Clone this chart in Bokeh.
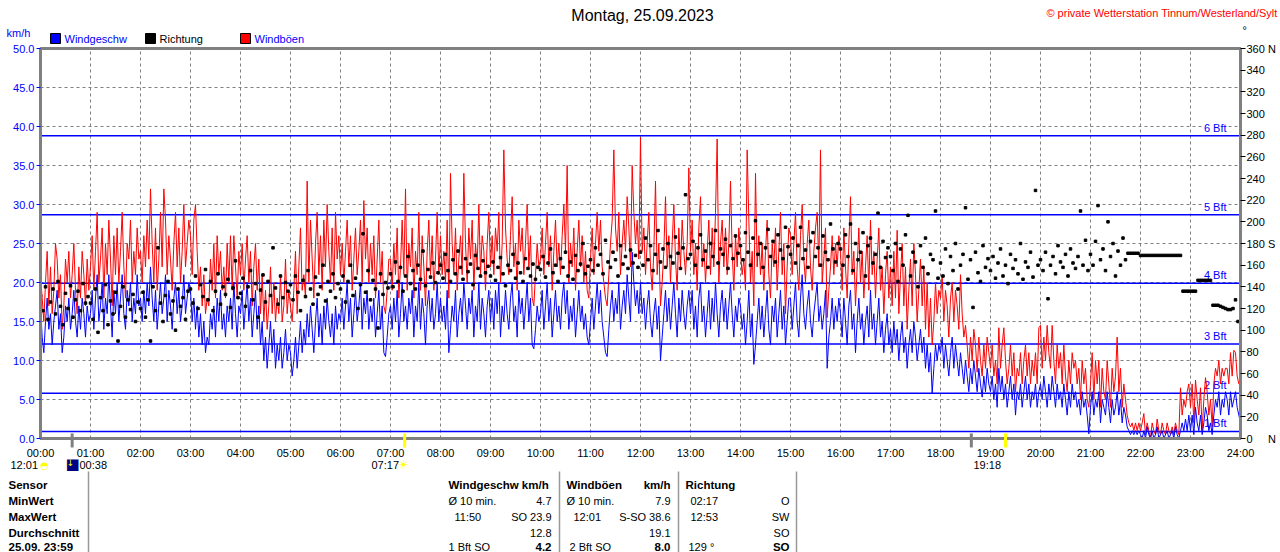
from bokeh.plotting import figure
from bokeh.models import Range1d, LinearAxis, FixedTicker, Span, Label, NumeralTickFormatter
from bokeh.core.properties import value
from bokeh.embed import file_html
from bokeh.resources import INLINE

FONT = "Liberation Sans"
SYM_FONT = "DejaVu Sans"
BLUE = "#0000FF"
RED = "#FF0000"
GRAY = "#808080"

# ---------------- data ----------------
# wind speed / gusts: 2-minute samples (30 per hour) + value at 24:00
SPEED_STEP_MIN = 2
wind_speed = [
    17, 13, 11, 15, 18, 14, 16, 12, 15, 17, 19, 14, 16, 11, 13, 17, 15, 18, 14, 16, 19, 15, 13, 17, 14, 18, 16, 13, 17, 15,  # 00
    16, 19, 14, 18, 21, 15, 17, 20, 14, 18, 16, 21, 17, 13, 19, 16, 20, 15, 18, 21, 16, 14, 19, 17, 20, 15, 18, 16, 21, 17,  # 01
    18, 15, 19, 16, 20, 17, 22, 18, 15, 19, 14, 17, 20, 16, 18, 21, 15, 19, 17, 14, 18, 20, 16, 19, 15, 17, 21, 16, 18, 20,  # 02
    19, 15, 18, 14, 17, 13, 16, 12, 15, 11, 13, 12, 16, 14, 17, 13, 18, 15, 19, 14, 16, 13, 17, 15, 18, 14, 20, 16, 13, 17,  # 03
    16, 19, 14, 17, 20, 15, 18, 13, 16, 19, 14, 17, 12, 15, 10, 13, 9, 12, 15, 11, 14, 9, 12, 10, 13, 9, 11, 14, 10, 12,      # 04
    11, 8, 10, 13, 9, 12, 15, 11, 14, 12, 16, 13, 17, 14, 11, 15, 18, 13, 16, 12, 17, 14, 18, 15, 13, 16, 12, 17, 14, 16,     # 05
    15, 18, 14, 17, 20, 15, 18, 13, 16, 19, 15, 17, 20, 14, 18, 16, 19, 14, 17, 15, 18, 13, 16, 19, 14, 17, 11, 10.5, 13, 16, # 06
    17, 14, 18, 15, 19, 13, 16, 20, 15, 17, 14, 18, 16, 19, 13, 17, 15, 20, 14, 18, 16, 12, 17, 19, 15, 18, 14, 16, 20, 15,  # 07
    18, 15, 17, 14, 19, 11, 14, 17, 15, 19, 13, 16, 18, 15, 20, 17, 14, 18, 16, 19, 13, 17, 15, 20, 14, 18, 16, 13, 17, 19,  # 08
    15, 18, 14, 19, 16, 20, 13, 17, 15, 19, 16, 14, 18, 20, 15, 17, 13, 19, 16, 18, 14, 17, 20, 15, 18, 12, 11.5, 14, 17, 15, # 09
    16, 19, 14, 17, 20, 15, 18, 13, 16, 19, 15, 17, 14, 18, 20, 16, 19, 14, 17, 15, 18, 13, 16, 19, 15, 17, 14, 16, 13, 12,  # 10
    15, 18, 14, 17, 20, 16, 19, 15, 13, 11, 10.5, 14, 17, 19, 15, 18, 16, 20, 14, 17, 19, 16, 21, 18, 15, 23.9, 20, 17, 19, 16,  # 11
    20, 16, 18, 14, 17, 19, 15, 13, 16, 18, 14, 17, 10, 13, 16, 19, 15, 18, 14, 17, 20, 16, 13, 18, 15, 19, 16, 14, 17, 19,  # 12
    16, 19, 14, 17, 13, 18, 20, 15, 17, 13, 16, 19, 14, 18, 15, 20, 16, 13, 17, 19, 15, 18, 14, 17, 20, 16, 13, 17, 15, 18,  # 13
    17, 14, 16, 12, 15, 19, 13, 16, 9.5, 12, 15, 18, 14, 17, 13, 16, 19, 14, 12, 17, 15, 18, 13, 16, 19, 14, 17, 12, 15, 18, # 14
    18, 14, 17, 20, 15, 13, 18, 21, 16, 14, 17, 19, 15, 13, 16, 18, 20, 15, 17, 14, 16, 19, 9, 13, 15, 18, 14, 17, 15, 18,   # 15
    16, 13, 18, 15, 12, 17, 19, 14, 16, 11, 15, 18, 14, 16, 12, 15, 17, 13, 19, 14, 16, 12, 15, 18, 13, 15, 11, 14, 16, 12,  # 16
    14, 11, 15, 12, 14, 10, 13, 15, 11, 13, 9, 12, 14, 11, 15, 13, 10, 12, 14, 11, 13, 9, 12, 8.5, 11, 5.8, 9, 12, 10, 12,   # 17
    11, 13, 9, 12, 10, 8, 11, 13, 9, 12, 10, 8, 11, 9, 7, 10, 8, 6, 9, 7, 10, 8, 6, 9, 7, 5.3, 8, 6, 9, 7,                    # 18
    6, 8, 5, 7, 4, 9, 6, 8, 5, 7, 4, 6, 8, 5, 7, 3, 6, 5, 7, 4, 6, 8, 5, 7, 4, 6, 5, 7, 4, 6,                                 # 19
    7, 5, 8, 6, 4, 7, 5, 8, 6, 4, 7, 5, 6, 4, 7, 5, 3, 6, 4, 7, 5, 6, 4, 5, 3, 6, 4, 5, 3, 0.6,                               # 20
    4, 6, 3, 5, 4, 6, 2, 5, 4, 3, 6, 4, 2, 5, 3, 4, 6, 3, 5, 2, 4, 3, 1.5, 1, 0.5, 1, 0.5, 1, 0.5, 1,                         # 21
    0.5, 0, 1, 0, 1.5, 0.5, 0, 1, 0, 0.5, 1.5, 0, 0.5, 1, 0, 0.5, 1, 0, 0.5, 1, 0, 1.5, 0.5, 0, 1, 2, 1, 2.5, 1, 3,           # 22
    1, 3, 0.5, 4, 2, 1, 3, 0.5, 2, 4, 3, 1, 2, 0.5, 3, 5, 4, 6, 3, 5, 4, 6, 5, 3, 6, 4, 5, 6, 4, 3,                           # 23
    2,                                                                                                                    # 24:00
]

wind_gust = [
    21, 18, 15, 20, 24, 17, 22, 16, 19, 25, 23, 18, 21, 14, 17, 23, 20, 24, 18, 21, 25, 19, 16, 22, 18, 24, 21, 17, 23, 19,  # 00
    22, 26, 19, 24, 29, 20, 23, 27, 18, 25, 21, 28, 23, 17, 26, 21, 27, 20, 24, 29, 22, 18, 25, 23, 28, 20, 24, 21, 27, 23,  # 01
    24, 20, 26, 22, 28, 23, 32, 25, 20, 27, 19, 23, 29, 22, 32, 28, 21, 26, 23, 19, 25, 29, 22, 27, 20, 24, 30, 22, 25, 28,  # 02
    26, 21, 28, 30, 24, 19, 22, 17, 21, 16, 18, 17, 23, 19, 25, 18, 26, 21, 24, 19, 22, 18, 25, 20, 26, 19, 26, 22, 18, 24,  # 03
    21, 25, 19, 23, 26, 20, 24, 17, 22, 25, 19, 23, 16, 21, 15, 19, 14, 17, 22, 16, 20, 15, 18, 16, 21, 15, 17, 23, 16, 19,  # 04
    17, 15, 19, 24, 16, 22, 27, 19, 21, 18, 33, 20, 28, 23, 18, 25, 29, 21, 26, 19, 28, 22, 30, 24, 20, 27, 19, 29, 23, 26,  # 05
    21, 25, 20, 24, 28, 22, 26, 19, 23, 27, 21, 24, 28, 20, 30.5, 23, 27, 20, 25, 21, 26, 18, 23, 28, 20, 24, 17, 16, 19, 23,  # 06
    23, 19, 25, 21, 27, 18, 22, 28, 21, 32, 19, 25, 22, 27, 18, 24, 21, 29, 19, 26, 22, 17, 24, 28, 21, 26, 19, 23, 29, 21,  # 07
    26, 21, 24, 20, 28, 18, 34, 25, 21, 27, 19, 23, 26, 21, 34, 25, 20, 27, 23, 28, 19, 25, 22, 30, 21, 26, 24, 19, 25, 29,  # 08
    22, 26, 21, 27, 24, 29, 20, 25, 37, 27, 23, 21, 26, 31, 22, 25, 19, 28, 24, 27, 21, 25, 30, 22, 26, 18, 17, 21, 25, 22,  # 09
    23, 27, 21, 25, 29, 22, 26, 19, 24, 28, 22, 25, 21, 26, 30, 24, 35, 20, 25, 22, 27, 19, 24, 28, 22, 26, 20, 24, 19, 18,  # 10
    23, 27, 21, 25, 29, 24, 28, 22, 20, 18, 17, 21, 25, 28, 37, 27, 24, 29, 21, 25, 28, 24, 31, 27, 22, 35, 29, 25, 28, 23,  # 11
    38.6, 24, 27, 21, 25, 29, 22, 19, 24, 33, 21, 25, 17, 20, 24, 31, 22, 26, 20, 25, 30, 23, 19, 27, 22, 28, 24, 21, 25, 34.7,  # 12
    24, 28, 21, 25, 19, 27, 31, 22, 25, 20, 24, 28, 21, 27, 22, 29, 38.4, 20, 25, 28, 22, 27, 21, 25, 33, 24, 19, 26, 22, 27,  # 13
    24, 21, 23, 19, 37, 28, 20, 24, 17, 34, 22, 26, 21, 25, 19, 24, 28, 21, 18, 25, 22, 27, 19, 24, 29, 21, 25, 16, 22, 27,  # 14
    26, 21, 25, 29, 22, 19, 26, 30, 23, 20, 25, 28, 22, 19, 24, 27, 29, 22, 37, 20, 23, 27, 15.5, 19, 22, 26, 21, 25, 22, 26,  # 15
    24, 19, 27, 22, 18, 25, 31, 21, 24, 17, 22, 27, 20, 24, 18, 22, 26, 19, 28, 21, 24, 18, 23, 27, 19, 22, 16, 21, 24, 18,  # 16
    22, 17, 24, 18, 26.7, 16, 21, 25, 17, 22, 14, 19, 23, 17, 25, 21, 15, 19, 23, 17, 22, 14, 20, 13, 18, 12, 15, 20, 16, 19,  # 17
    18, 21, 15, 19, 17, 13, 18, 20, 15, 19, 17, 14, 21, 16, 13, 14.5, 12, 9, 13, 10, 14, 12, 8.5, 13, 10, 8, 12, 9, 13, 11,  # 18
    9, 12, 8, 10, 7, 14.2, 9, 12, 14.2, 10, 7, 9, 12, 8, 11, 6, 9, 8, 11, 7, 10, 12, 8, 11, 7, 10, 8, 11, 7, 14.2,           # 19
    14.5, 9, 13, 10, 14.5, 11, 9, 14.5, 10, 7, 12, 9, 11, 7, 12, 8, 6, 10, 7, 11, 9, 10, 7, 9, 5, 10, 7, 9, 5, 4,             # 20
    7, 11, 5, 10, 7, 10, 4, 9, 6, 5, 10, 7, 4, 9, 6, 8, 13, 6, 9, 4, 7, 5, 3, 2, 1.5, 2, 1, 2, 1, 2,                          # 21
    1, 2, 3.2, 0.5, 2, 1, 0, 2, 1, 0.5, 2.5, 1, 0.5, 2, 1, 0.5, 2, 1, 0.5, 1.5, 0.5, 2, 1, 0.5, 6.5, 3, 5, 4, 6, 7,          # 22
    4, 7, 2, 7.5, 5, 3, 6.5, 1, 5, 7.8, 6, 3, 5, 1.5, 7, 9, 8, 10, 7, 9, 8, 9, 9, 7, 11, 8, 11.3, 11, 8, 7,                  # 23
    7,                                                                                                                    # 24:00
]

# wind direction (degrees): 3-minute samples (20 per hour)
DIR_STEP_MIN = 3
wind_dir = [
    132, 118, 140, 110, 126, 138, 115, 145, 122, 105, 134, 120, 141, 112, 128, 136, 118, 143, 125, 131,  # 00
    125, 110, 138, 98, 130, 118, 142, 105, 127, 115, 135, 90, 122, 140, 112, 128, 119, 133, 108, 126,    # 01
    120, 135, 112, 128, 90, 140, 118, 176, 125, 108, 132, 145, 115, 127, 100, 138, 122, 130, 110, 136,   # 02
    138, 125, 150, 120, 142, 131, 156, 128, 145, 118, 136, 152, 124, 140, 133, 147, 121, 139, 164, 130,  # 03
    134, 148, 122, 140, 155, 128, 143, 112, 137, 151, 126, 145, 132, 176, 139, 124, 150, 130, 144, 136,  # 04
    142, 128, 150, 135, 118, 146, 131, 155, 138, 124, 149, 133, 140, 160, 127, 145, 136, 152, 130, 143,  # 05
    138, 150, 126, 145, 160, 132, 148, 120, 142, 189, 135, 155, 128, 146, 138, 102, 152, 133, 144, 139,  # 06
    152, 140, 163, 145, 158, 136, 150, 168, 143, 155, 138, 160, 147, 173, 141, 156, 149, 162, 144, 153,  # 07
    160, 148, 170, 155, 145, 165, 152, 173, 158, 147, 166, 154, 161, 142, 169, 157, 150, 164, 153, 159,  # 08
    150, 163, 146, 158, 167, 152, 141, 160, 155, 170, 148, 162, 153, 145, 166, 157, 150, 161, 147, 158,  # 09
    156, 168, 149, 162, 175, 153, 160, 145, 166, 158, 172, 150, 163, 147, 169, 155, 161, 180, 152, 159,  # 10
    165, 155, 176, 160, 170, 152, 183, 163, 158, 172, 165, 150, 178, 161, 168, 157, 174, 162, 169, 158,  # 11
    172, 160, 185, 165, 178, 155, 170, 192, 163, 175, 158, 180, 168, 162, 186, 171, 157, 176, 225, 166,  # 12
    170, 182, 160, 176, 188, 165, 173, 158, 180, 168, 192, 162, 175, 170, 184, 157, 178, 166, 187, 171,  # 13
    178, 165, 190, 172, 160, 185, 201, 170, 180, 158, 176, 193, 168, 182, 163, 188, 174, 166, 195, 177,  # 14
    170, 185, 162, 178, 195, 166, 174, 158, 182, 190, 168, 176, 160, 187, 172, 165, 198, 175, 163, 180,  # 15
    175, 160, 188, 168, 198, 155, 180, 165, 172, 190, 150, 178, 185, 162, 170, 208, 158, 182, 167, 176,  # 16
    168, 155, 180, 145, 175, 160, 188, 206, 150, 172, 163, 140, 178, 158, 185, 152, 170, 165, 210, 148,  # 17
    162, 150, 175, 143, 168, 155, 180, 138, 160, 170, 213, 147, 165, 121, 172, 153, 145, 178, 158, 166,  # 18
    155, 168, 148, 162, 175, 150, 160, 143, 170, 157, 165, 152, 180, 147, 163, 158, 172, 149, 229, 160,  # 19
    165, 155, 172, 129, 160, 168, 152, 178, 163, 158, 170, 150, 175, 162, 157, 168, 210, 160, 183, 155,  # 20
    170, 160, 182, 215, 165, 175, 155, 200, 168, 180, 150, 173, 160, 185, 165, 171, 171, 171, 171, 171,  # 21
    169, 169, 169, 169, 169, 169, 169, 169, 169, 169, 169, 169, 169, 169, 169, 169, 169, 136, 136, 136,  # 22
    136, 136, 136, 146, 146, 146, 146, 146, 146, 123, 123, 123, 122, 121, 120, 119, 119, 120, 128, 108,  # 23
]

assert len(wind_speed) == 721, len(wind_speed)
assert len(wind_gust) == 721, len(wind_gust)
assert len(wind_dir) == 480, len(wind_dir)

t_speed = [i * SPEED_STEP_MIN / 60 for i in range(len(wind_speed))]
t_dir = [i * DIR_STEP_MIN / 60 for i in range(len(wind_dir))]

hour_ticks = list(range(25))
hour_labels = ["00:00", "01:00", "02:00", "03:00", "04:00", "05:00", "06:00", "07:00",
               "08:00", "09:00", "10:00", "11:00", "12:00", "13:00", "14:00", "15:00",
               "16:00", "17:00", "18:00", "19:00", "20:00", "21:00", "22:00", "23:00", "24:00"]
speed_ticks = [0, 5, 10, 15, 20, 25, 30, 35, 40, 45, 50]
dir_ticks = [0, 20, 40, 60, 80, 100, 120, 140, 160, 180, 200, 220, 240, 260, 280, 300, 320, 340, 360]
dir_named = {0: "0\u00a0\u00a0\u00a0\u00a0\u00a0N", 180: "180 S", 360: "360 N"}

bft_levels = [0.9, 5.8, 12.1, 19.9, 28.7, 38.8]
bft_names = ["1 Bft", "2 Bft", "3 Bft", "4 Bft", "5 Bft", "6 Bft"]

# moon / sun events (hours) shown as marks on the time axis
event_hours = [0.633, 7.283, 18.617, 19.3]
event_colors = [GRAY, "#FFFF00", GRAY, "#FFFF00"]

legend_names = ["Windgeschw", "Richtung", "Windböen"]
legend_colors = [BLUE, "black", RED]

table_rows = ["Sensor", "MinWert", "MaxWert", "Durchschnitt", "25.09. 23:59"]

# ---------------- figure (frame at page x 40..1240, y 48..438) ----------------
p = figure(width=1280, height=552, x_range=Range1d(0, 24), y_range=Range1d(0, 50),
           output_backend="svg", toolbar_location=None,
           min_border_left=40, min_border_right=40, min_border_top=48, min_border_bottom=114,
           background_fill_color="white", border_fill_color="white")
p.extra_y_ranges = {"dir": Range1d(0, 360), "py": Range1d(438, 48)}
p.extra_x_ranges = {"px": Range1d(40, 1240)}
p.outline_line_color = GRAY
p.outline_line_width = 3

xa = p.xaxis[0]
xa.ticker = FixedTicker(ticks=hour_ticks)
xa.major_label_overrides = dict(zip(hour_ticks, hour_labels))
xa.major_tick_out = 0
xa.major_tick_in = 0
xa.axis_line_color = GRAY
xa.axis_line_width = 3
xa.major_label_text_font = FONT
xa.major_label_text_font_size = "11px"
xa.major_label_text_color = "black"
xa.major_label_standoff = 8

ya = p.yaxis[0]
ya.ticker = FixedTicker(ticks=speed_ticks)
ya.formatter = NumeralTickFormatter(format="0.0")
ya.major_tick_out = 4
ya.major_tick_in = 0
ya.major_tick_line_color = BLUE
ya.axis_line_color = GRAY
ya.axis_line_width = 3
ya.major_label_text_font = FONT
ya.major_label_text_font_size = "11px"
ya.major_label_text_color = BLUE
ya.major_label_standoff = 2

ra = LinearAxis(y_range_name="dir", ticker=FixedTicker(ticks=dir_ticks),
                major_label_overrides=dir_named)
ra.major_tick_out = 5
ra.major_tick_in = 0
ra.major_tick_line_color = "black"
ra.axis_line_color = GRAY
ra.axis_line_width = 3
ra.major_label_text_font = FONT
ra.major_label_text_font_size = "11px"
ra.major_label_text_color = "black"
ra.major_label_standoff = 1
p.add_layout(ra, "right")

p.xgrid.ticker = FixedTicker(ticks=hour_ticks)
p.ygrid.ticker = FixedTicker(ticks=speed_ticks)
p.grid.grid_line_color = GRAY
p.grid.grid_line_dash = "3 3"
p.grid.grid_line_width = 1

for lvl, name in zip(bft_levels, bft_names):
    p.add_layout(Span(location=lvl, dimension="width", line_color=BLUE, line_width=1.5,
                      level="underlay"))
    p.add_layout(Label(x=24, y=lvl, text=name, text_align="right", text_baseline="middle",
                       x_offset=-14, y_offset=8, text_color=BLUE, text_font=FONT,
                       text_font_size="11px", background_fill_color="white",
                       level="underlay"))

# data series
p.line(t_speed, wind_gust, line_color=RED, line_width=1)
p.line(t_speed, wind_speed, line_color=BLUE, line_width=1)
p.scatter(t_dir, wind_dir, marker="square", size=2.5, fill_color="black", line_color="black",
          y_range_name="dir")

# sun / moon event marks on the time axis (drawn unclipped)
p.segment(x0=event_hours, y0=[0.65] * len(event_hours), x1=event_hours,
          y1=[-1.15] * len(event_hours), line_color=event_colors, line_width=3,
          level="overlay")

# ---------------- texts around the frame (page-pixel ranges, unclipped) ----------------
def txt(xs, ys, texts, align="left", bold=False, color="black", size="11px", font=FONT):
    p.text(x=xs, y=ys, text=texts, text_font=value(font), text_font_size=value(size),
           text_color=color, text_align=align, text_baseline="middle",
           text_font_style="bold" if bold else "normal",
           x_range_name="px", y_range_name="py", level="overlay")

# header
txt([642], [15], ["Montag, 25.09.2023"], align="center", size="16px")
txt([1277], [12], ["\u00a9 private Wetterstation Tinnum/Westerland/Sylt"], align="right",
    color=RED)
txt([6], [32.5], ["km/h"], color=BLUE)
txt([1242], [29], ["\u00b0"])

# legend
p.rect(x=[55, 150, 245], y=[38, 38, 38], width=10, height=10, width_units="screen",
       height_units="screen", fill_color=legend_colors, line_color="black", line_width=1,
       x_range_name="px", y_range_name="py", level="overlay")
txt([64], [38], [legend_names[0]], color=BLUE)
txt([159], [38], [legend_names[1]], color="black")
txt([254], [38], [legend_names[2]], color=BLUE)

# event labels under the time axis
txt([10, 79, 371, 973], [464.5] * 4, ["12:01", "00:38", "07:17", "19:18"])
txt([44], [464.5], ["\u25d3"], align="center", color="#FFFF00", size="10px", font=SYM_FONT)
txt([72], [463], ["\u25a0"], align="center", color="#000080", size="15px", font=SYM_FONT)
txt([70], [462], ["\u2193"], align="center", color="#FFFF00", size="9px", font=SYM_FONT)
txt([403], [464.5], ["\u2600"], align="center", color="#FFFF00", size="12px", font=SYM_FONT)

# statistics table
rows_y = [484.5, 500.5, 516.5, 532, 546]
div_x = [88, 559, 678, 796]
p.segment(x0=div_x, y0=[471] * 4, x1=div_x, y1=[552] * 4, line_color="#999999",
          line_width=1.5, x_range_name="px", y_range_name="py", level="overlay")

txt([8] * 5, rows_y, table_rows, bold=True, size="11.5px")
txt([448, 566, 685], [rows_y[0]] * 3, ["Windgeschw km/h", "Windböen", "Richtung"],
    bold=True, size="11.5px")
txt([670], [rows_y[0]], ["km/h"], align="right", bold=True, size="11.5px")
txt([448, 566, 690, 454, 573, 690, 448, 569, 688],
    [rows_y[1], rows_y[1], rows_y[1], rows_y[2], rows_y[2], rows_y[2],
     rows_y[4], rows_y[4], rows_y[4]],
    ["\u00d8 10 min.", "\u00d8 10 min.", "02:17", "11:50", "12:01", "12:53",
     "1 Bft SO", "2 Bft SO", "129 \u00b0"])
txt([551, 670, 789, 551, 670, 789, 551, 670, 789],
    [rows_y[1], rows_y[1], rows_y[1], rows_y[2], rows_y[2], rows_y[2],
     rows_y[3], rows_y[3], rows_y[3]],
    ["4.7", "7.9", "O", "SO 23.9", "S-SO 38.6", "SW", "12.8", "19.1", "SO"], align="right")
txt([551, 670, 789], [rows_y[4]] * 3, ["4.2", "8.0", "SO"], align="right", bold=True,
    size="11.5px")

open("out.html", "w").write(file_html(p, INLINE))
